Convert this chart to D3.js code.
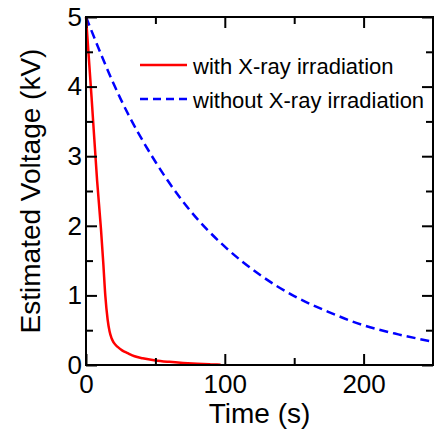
<!DOCTYPE html>
<html>
<head>
<meta charset="utf-8">
<script src="https://cdn.jsdelivr.net/npm/d3@7"></script>
<style>
  body { margin: 0; background: #fff; }
  svg text { font-family: "Liberation Sans", Arial, sans-serif; fill: #000; }
</style>
</head>
<body>
<div id="chart"></div>
<script>
// Values
const withTime = [0, 4, 8, 10.8, 12.5, 13.9, 15.6, 17, 18.5, 20, 22.8, 26, 30, 35, 40.8, 50, 60, 70, 80, 90, 97];
const withVolt = [5, 3.85, 2.65, 1.95, 1.45, 1.0, 0.65, 0.48, 0.38, 0.32, 0.26, 0.21, 0.17, 0.125, 0.096, 0.065, 0.045, 0.03, 0.018, 0.009, 0.004];

const withoutTime = [0, 25, 50, 75, 100, 125, 150, 175, 200, 225, 250];
const withoutVolt = [5, 3.82, 2.92, 2.22, 1.70, 1.30, 0.99, 0.76, 0.57, 0.44, 0.335];

const xMajor = [0, 100, 200];
const xMinor = [50, 150];
const yMajor = [0, 1, 2, 3, 4, 5];
const yMinor = [0.5, 1.5, 2.5, 3.5, 4.5];

const seriesNames = ["with X-ray irradiation", "without X-ray irradiation"];

const width = 434, height = 439;
const margin = { top: 17, right: 1, bottom: 74, left: 86 };
const w = width - margin.left - margin.right;
const h = height - margin.top - margin.bottom;

const svg = d3.select("#chart").append("svg")
    .attr("width", width)
    .attr("height", height);

const g = svg.append("g")
    .attr("transform", `translate(${margin.left}, ${margin.top})`);

const x = d3.scaleLinear().domain([0, 250]).range([0, w]);
const y = d3.scaleLinear().domain([0, 5]).range([h, 0]);

// curves
const line = d3.line()
    .x(d => x(d[0]))
    .y(d => y(d[1]))
    .curve(d3.curveMonotoneX);

g.append("path")
    .attr("d", line(withoutTime.map((t, i) => [t, withoutVolt[i]])))
    .attr("fill", "none")
    .attr("stroke", "#0000ff")
    .attr("stroke-width", 2.5)
    .attr("stroke-dasharray", "9,5");

g.append("path")
    .attr("d", line(withTime.map((t, i) => [t, withVolt[i]])))
    .attr("fill", "none")
    .attr("stroke", "#ff0000")
    .attr("stroke-width", 2.5);

// axes: ticks point inward on all four sides
function styleAxis(sel) {
    sel.select(".domain").remove();
    sel.selectAll("line").attr("stroke", "#000").attr("stroke-width", 2);
    sel.selectAll("text").style("font-size", "26px").attr("fill", "#000");
}

const fmt = d3.format("d");

g.append("g").attr("transform", `translate(0, ${h})`)
    .call(d3.axisBottom(x).tickValues(xMajor).tickFormat(fmt).tickSizeInner(-11).tickSizeOuter(0).tickPadding(10))
    .call(styleAxis);
g.append("g").attr("transform", `translate(0, ${h})`)
    .call(d3.axisBottom(x).tickValues(xMinor).tickSizeInner(-7).tickSizeOuter(0).tickFormat(""))
    .call(styleAxis);
g.append("g")
    .call(d3.axisTop(x).tickValues(xMajor).tickSizeInner(-11).tickSizeOuter(0).tickFormat(""))
    .call(styleAxis);
g.append("g")
    .call(d3.axisTop(x).tickValues(xMinor).tickSizeInner(-7).tickSizeOuter(0).tickFormat(""))
    .call(styleAxis);

g.append("g")
    .call(d3.axisLeft(y).tickValues(yMajor).tickFormat(fmt).tickSizeInner(-11).tickSizeOuter(0).tickPadding(4))
    .call(styleAxis);
g.append("g")
    .call(d3.axisLeft(y).tickValues(yMinor).tickSizeInner(-7).tickSizeOuter(0).tickFormat(""))
    .call(styleAxis);
g.append("g").attr("transform", `translate(${w}, 0)`)
    .call(d3.axisRight(y).tickValues(yMajor).tickSizeInner(-11).tickSizeOuter(0).tickFormat(""))
    .call(styleAxis);
g.append("g").attr("transform", `translate(${w}, 0)`)
    .call(d3.axisRight(y).tickValues(yMinor).tickSizeInner(-7).tickSizeOuter(0).tickFormat(""))
    .call(styleAxis);

// frame
g.append("rect")
    .attr("x", 0).attr("y", 0)
    .attr("width", w).attr("height", h)
    .attr("fill", "none")
    .attr("stroke", "#000")
    .attr("stroke-width", 2);

// axis titles
svg.append("text")
    .attr("x", margin.left + w / 2)
    .attr("y", 423)
    .attr("text-anchor", "middle")
    .style("font-size", "28px")
    .text("Time (s)");

svg.append("text")
    .attr("transform", `translate(40, ${margin.top + h / 2}) rotate(-90)`)
    .attr("text-anchor", "middle")
    .style("font-size", "28px")
    .text("Estimated Voltage (kV)");

// legend
const legend = svg.append("g");
const legendRows = [
    { name: seriesNames[0], color: "#ff0000", dash: null, y: 65 },
    { name: seriesNames[1], color: "#0000ff", dash: "8,5", y: 99 }
];
legendRows.forEach(r => {
    legend.append("line")
        .attr("x1", 140).attr("x2", 187)
        .attr("y1", r.y).attr("y2", r.y)
        .attr("stroke", r.color)
        .attr("stroke-width", 2.5)
        .attr("stroke-dasharray", r.dash);
    legend.append("text")
        .attr("x", 193)
        .attr("y", r.y + 8.5)
        .style("font-size", "22px")
        .text(r.name);
});
</script>
</body>
</html>
